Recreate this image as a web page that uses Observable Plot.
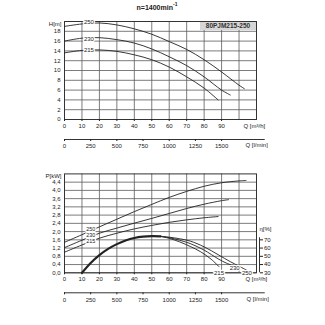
<!DOCTYPE html>
<html><head><meta charset="utf-8">
<script src="https://cdn.jsdelivr.net/npm/d3@7"></script>
<script src="https://cdn.jsdelivr.net/npm/@observablehq/plot@0.6"></script>
<style>
body{margin:0;background:#fff;}
#wrap{position:relative;width:325px;height:325px;overflow:hidden;font-family:"Liberation Sans",Arial,sans-serif;color:#222;background:#fff}
#wrap svg{position:absolute;left:0}
.t{position:absolute;white-space:nowrap}
</style></head><body><div id="wrap"></div>
<script>
// ---- data ----
const title = "n=1400min";
const model = "80PJM215-250";
const flowTicks = [0,10,20,30,40,50,60,70,80,90];
const gridFlow = [10,20,30,40,50,60,70,80,90,100];
const lminTicks = [0,250,500,750,1000,1250,1500];
const headTicks = [0,2,4,6,8,10,12,14,16,18];
const powerTicks = [0,0.4,0.8,1.2,1.6,2.0,2.4,2.8,3.2,3.6,4.0,4.4];
const effTicks = [30,40,50,60,70];
const impellers = ["250","230","215"];

const head250 = [[0,19.0],[10,19.5],[20,19.7],[30,19.3],[40,18.5],[50,17.4],[60,15.9],[70,14.3],[80,12.2],[90,9.7],[100,7.0],[103,6.3]];
const head230 = [[0,16.0],[10,16.6],[20,16.7],[30,16.3],[40,15.6],[50,14.4],[60,12.8],[70,11.0],[80,8.7],[90,6.0],[95,5.0]];
const head215 = [[0,13.6],[10,14.1],[20,14.2],[30,13.9],[40,13.2],[50,12.2],[60,10.7],[70,8.7],[80,6.4],[88,4.0]];
const headLabelQ = 14;
const headLabelH = [19.8,16.5,14.2];

const power250 = [[0,1.48],[10,1.85],[20,2.23],[30,2.6],[40,2.97],[50,3.32],[60,3.66],[70,3.95],[80,4.2],[90,4.37],[100,4.46],[104,4.48]];
const power230 = [[0,1.22],[10,1.58],[20,1.92],[30,2.17],[40,2.41],[50,2.64],[60,2.88],[70,3.12],[80,3.33],[90,3.5],[94,3.55]];
const power215 = [[0,1.0],[10,1.35],[20,1.68],[30,1.92],[40,2.13],[50,2.3],[60,2.45],[70,2.57],[80,2.67],[88,2.73]];
const powerLabelQ = 15;
const powerLabelP = [2.12,1.83,1.55];

const effCommon = [[10,30],[15,42],[20,51.5],[25,59],[30,64.8],[35,69.2],[40,72.2],[45,73.8],[50,74.4],[55,74.2]];
const eff250 = [[55,74.2],[60,73.2],[66,71.3],[72,68.5],[80,61.5],[88,52],[95,43.5],[100,38],[105,32.5]];
const eff230 = [[55,74.2],[60,72.6],[66,69.5],[72,65.5],[80,57.5],[88,47],[93,41.5],[97,38.5]];
const eff215 = [[55,74.2],[60,71.8],[66,67.5],[72,62],[78,55.5],[84,46.5],[88.5,37.5]];
const effLabelQ = [104.5,97.5,88.5];
const effLabelE = [30,35.5,30];

// ---- helpers ----
const font = "'Liberation Sans', Arial, sans-serif";
const ink = "#222", gridC = "#5a5a5a";
const toP = e => (e - 30) * 0.04;
const fmtP = d => d.toFixed(1).replace(".", ",");
const lmin = v => v * 0.06;
const fmtL = d => String(Math.round(d / 0.06));
const X = d => d[0], Y = d => d[1];
const lineOpts = {x: X, y: Y, stroke: ink, strokeWidth: 0.9, curve: "catmull-rom"};
const halo = {fill: ink, stroke: "white", strokeWidth: 2.5, paintOrder: "stroke", fontSize: 5.4};

const wrap = document.getElementById("wrap");

// ---- top chart: head ----
const topPlot = Plot.plot({
  width: 325, height: 160,
  marginLeft: 64, marginRight: 69, marginTop: 21, marginBottom: 41,
  x: {domain: [0, 110]}, y: {domain: [0, 20]},
  style: {fontFamily: font, fontSize: "6px", color: ink, background: "transparent", overflow: "visible"},
  marks: [
    Plot.ruleX(gridFlow, {stroke: gridC, strokeWidth: 0.8}),
    Plot.ruleY(headTicks, {stroke: gridC, strokeWidth: 0.8}),
    Plot.frame({stroke: "#333", strokeWidth: 1}),
    Plot.axisY({ticks: headTicks, tickSize: 0, tickPadding: 4, label: null}),
    Plot.axisX({ticks: flowTicks, tickSize: 2, tickPadding: 2, label: null}),
    Plot.ruleY([0], {x1: 0, x2: 115, dy: 20, stroke: "#333"}),
    Plot.axisX({ticks: lminTicks.map(lmin), tickFormat: fmtL, tickSize: 2, tickPadding: 2.5, dy: 20, label: null}),
    Plot.line(head250, lineOpts),
    Plot.line(head230, lineOpts),
    Plot.line(head215, lineOpts),
    Plot.text(impellers, {x: () => headLabelQ, y: (d, i) => headLabelH[i], text: d => d, ...halo, fontSize: 6}),
    Plot.text(["H[m]"], {frameAnchor: "top-left", dx: -3, textAnchor: "end", text: d => d}),
    Plot.text(["Q [m³/h]"], {frameAnchor: "bottom-right", dx: -13, dy: 8, textAnchor: "start", text: d => d}),
    Plot.text(["Q [l/min]"], {frameAnchor: "bottom-right", dx: -11, dy: 27, textAnchor: "start", text: d => d})
  ]
});
topPlot.style.top = "0px";
wrap.appendChild(topPlot);

// ---- bottom chart: power & efficiency ----
const botPlot = Plot.plot({
  width: 325, height: 165,
  marginLeft: 64, marginRight: 69, marginTop: 13.4, marginBottom: 52.7,
  x: {domain: [0, 110]}, y: {domain: [0, 4.8]},
  style: {fontFamily: font, fontSize: "6px", color: ink, background: "transparent", overflow: "visible"},
  marks: [
    Plot.ruleX(gridFlow, {stroke: gridC, strokeWidth: 0.8}),
    Plot.ruleY(powerTicks, {stroke: gridC, strokeWidth: 0.8}),
    Plot.frame({stroke: "#333", strokeWidth: 1}),
    Plot.axisY({ticks: powerTicks, tickFormat: fmtP, tickSize: 0, tickPadding: 4, label: null}),
    Plot.axisX({ticks: flowTicks, tickSize: 2, tickPadding: 2, label: null}),
    Plot.ruleY([0], {x1: 0, x2: 115, dy: 20, stroke: "#333"}),
    Plot.axisX({ticks: lminTicks.map(lmin), tickFormat: fmtL, tickSize: 2, tickPadding: 2.5, dy: 20, label: null}),
    // efficiency axis (right)
    Plot.ruleX([110], {y1: 0, y2: toP(72.5), dx: 3, stroke: "#333"}),
    Plot.axisY({anchor: "right", ticks: effTicks.map(toP), tickFormat: d => String(Math.round(d / 0.04 + 30)), tickSize: 3, tickPadding: 1.5, dx: 3, label: null}),
    Plot.text(["η[%]"], {x: () => 110, y: () => toP(83), dx: 9, text: d => d}),
    // power curves
    Plot.line(power250, lineOpts),
    Plot.line(power230, lineOpts),
    Plot.line(power215, lineOpts),
    Plot.text(impellers, {x: () => powerLabelQ, y: (d, i) => powerLabelP[i], text: d => d, ...halo}),
    // efficiency curves
    Plot.line(eff250, {...lineOpts, y: d => toP(d[1])}),
    Plot.line(eff230, {...lineOpts, y: d => toP(d[1])}),
    Plot.line(eff215, {...lineOpts, y: d => toP(d[1])}),
    Plot.line(effCommon, {...lineOpts, y: d => toP(d[1]), strokeWidth: 2.2}),
    Plot.text(impellers, {x: (d, i) => effLabelQ[i], y: (d, i) => toP(effLabelE[i]), text: d => d, ...halo, fontSize: 6}),
    Plot.text(["P[kW]"], {frameAnchor: "top-left", dx: -3, textAnchor: "end", text: d => d}),
    Plot.text(["Q [m³/h]"], {frameAnchor: "bottom-right", dx: -11, dy: 8.4, textAnchor: "start", text: d => d}),
    Plot.text(["Q [l/min]"], {frameAnchor: "bottom-right", dx: -10, dy: 28.4, textAnchor: "start", text: d => d})
  ]
});
botPlot.style.top = "160px";
wrap.appendChild(botPlot);

// ---- title & model box ----
const t = document.createElement("div");
t.className = "t";
t.style.cssText = "left:0;width:314px;top:0px;text-align:center;font-weight:bold;font-size:7px;line-height:9px;";
t.innerHTML = title + "<sup style='font-size:5px;vertical-align:4px'>-1</sup>";
wrap.appendChild(t);

const b = document.createElement("div");
b.className = "t";
b.style.cssText = "left:200px;top:21.5px;width:56px;height:8px;background:#d6d6d6;text-align:center;font-weight:bold;font-size:6.5px;line-height:8px;color:#333;";
b.textContent = model;
wrap.appendChild(b);
</script></body></html>
